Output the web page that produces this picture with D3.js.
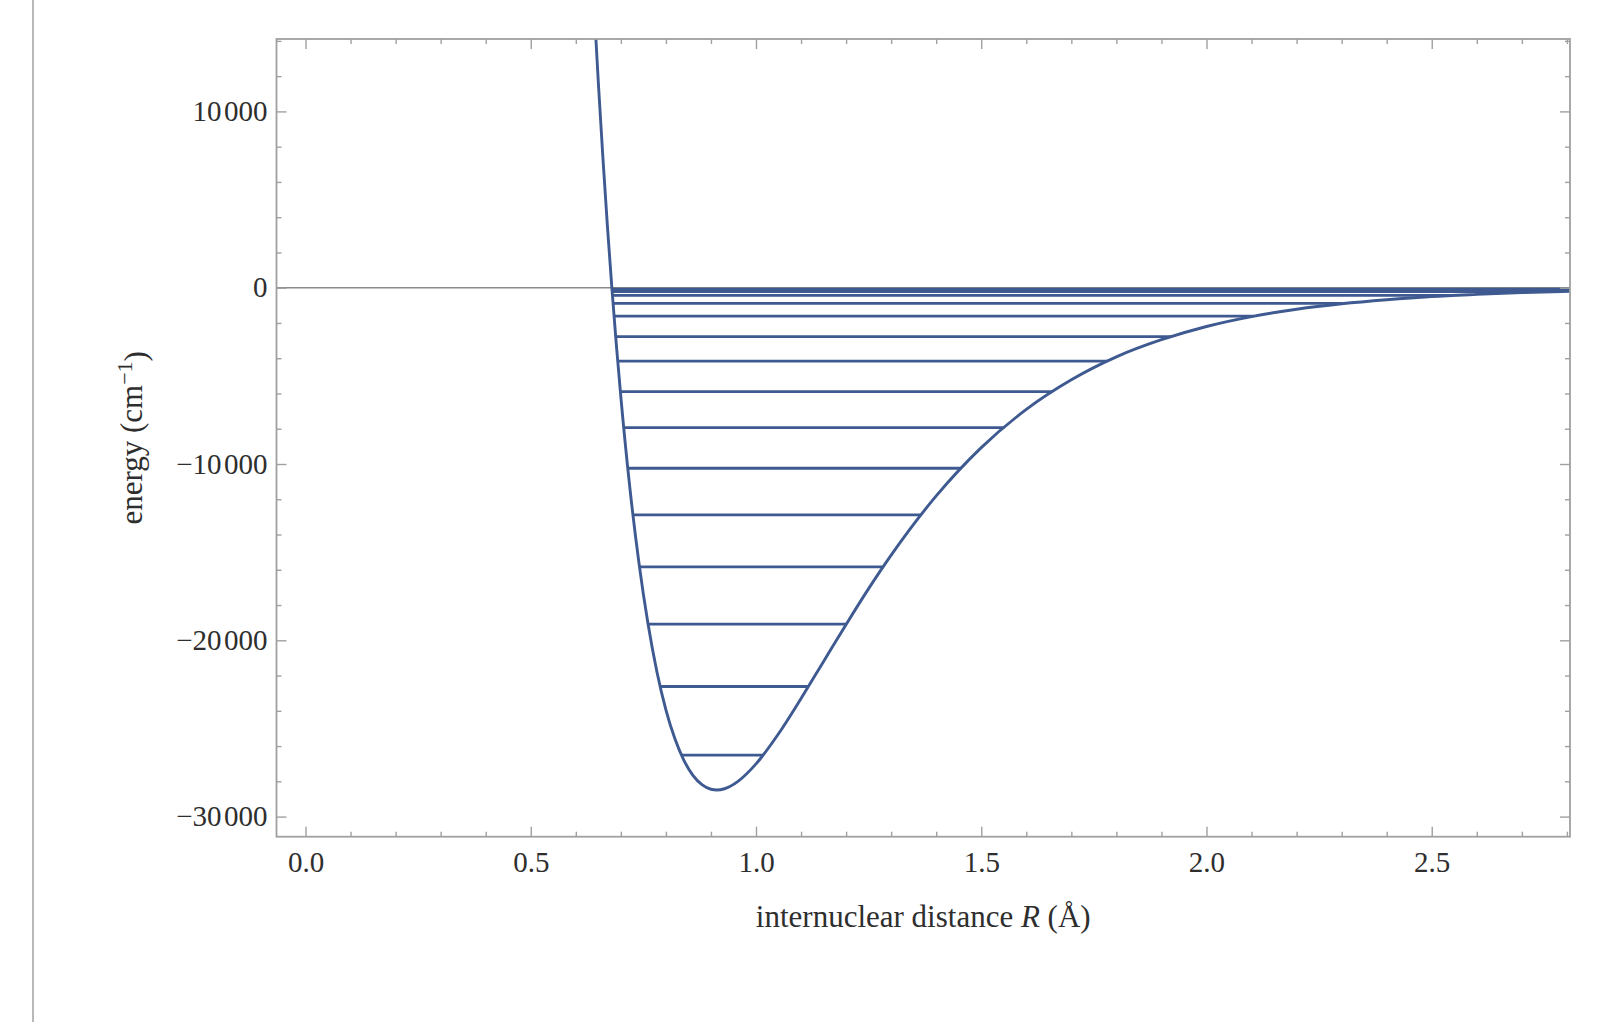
<!DOCTYPE html>
<html>
<head>
<meta charset="utf-8">
<title>Potential curve with vibrational levels</title>
<script src="https://cdn.jsdelivr.net/npm/d3@7"></script>
<style>
  body { margin: 0; background: #fff; }
  text { font-family: "Liberation Serif", "DejaVu Serif", serif; }
</style>
</head>
<body>
<svg id="chart" width="1604" height="1022"></svg>
<script>
// potential curve: R in angstrom, energy in cm^-1
var curveR = [0.63, 0.64, 0.65, 0.66, 0.67, 0.68, 0.69, 0.70, 0.72, 0.74, 0.76, 0.78, 0.80, 0.82,
              0.84, 0.86, 0.88, 0.90, 0.913, 0.93, 0.96, 1.00, 1.05, 1.10, 1.15, 1.20, 1.25, 1.30,
              1.40, 1.50, 1.60, 1.70, 1.80, 1.90, 2.00, 2.10, 2.20, 2.30, 2.40, 2.50, 2.60, 2.70, 2.81];
var curveE = [21200, 16230, 11640, 7430, 3550, 0, -3240, -6200, -11350, -15580, -19020, -21780, -23940, -25590,
              -26810, -27660, -28190, -28450, -28490, -28420, -28000, -27010, -25300, -23300, -21200, -19100, -17070, -15170,
              -11810, -9070, -6900, -5220, -3920, -2950, -2200, -1640, -1220, -910, -680, -500, -380, -280, -200];

// vibrational levels, with inner / outer turning points
var levelE    = [-26510, -22620, -19080, -15830, -12890, -10240, -7940, -5900, -4160, -2770, -1610, -890, -440, -215, -75];
var levelRin  = [0.835, 0.788, 0.761, 0.741, 0.727, 0.715, 0.706, 0.699, 0.693, 0.689, 0.685, 0.683, 0.681, 0.6807, 0.6803];
var levelRout = [1.016, 1.117, 1.201, 1.283, 1.367, 1.455, 1.551, 1.658, 1.780, 1.923, 2.104, 2.300, 2.545, 2.79, 3.1];

var xTicks = [0, 0.5, 1, 1.5, 2, 2.5];
var yTicks = [-30000, -20000, -10000, 0, 10000];

var xLabel = "internuclear distance ";
var yLabel = "energy (cm";

var lineColor = "#3e5a91";
var frameColor = "#a0a0a0";
var textColor = "#2e2e2e";
var fontSize = 29;
var titleSize = 31;

var margin = {top: 39, right: 34, bottom: 185.3, left: 276.5};
var W = 1604, H = 1022;

var svg = d3.select("#chart");

var x = d3.scaleLinear().domain([-0.0644, 2.8069]).range([margin.left, W - margin.right]);
var y = d3.scaleLinear().domain([-31140, 14107]).range([H - margin.bottom, margin.top]);

// page border line on the left
svg.append("line")
    .attr("x1", 33).attr("x2", 33).attr("y1", 0).attr("y2", H)
    .attr("stroke", "#b8b8b8").attr("stroke-width", 2);

svg.append("clipPath").attr("id", "plotclip")
    .append("rect")
    .attr("x", x.range()[0]).attr("y", y.range()[1])
    .attr("width", x.range()[1] - x.range()[0])
    .attr("height", y.range()[0] - y.range()[1]);

var plot = svg.append("g").attr("clip-path", "url(#plotclip)");

// zero axis
plot.append("line")
    .attr("x1", x.range()[0]).attr("x2", x.range()[1])
    .attr("y1", y(0)).attr("y2", y(0))
    .attr("stroke", "#8a8a8a").attr("stroke-width", 1.5);

var levels = levelE.map(function(e, i) { return {e: e, r0: levelRin[i], r1: levelRout[i]}; });

plot.selectAll("line.level")
    .data(levels)
    .enter()
    .append("line")
    .attr("class", "level")
    .attr("x1", function(d) { return x(d.r0); })
    .attr("x2", function(d) { return x(d.r1); })
    .attr("y1", function(d) { return y(d.e); })
    .attr("y2", function(d) { return y(d.e); })
    .attr("stroke", lineColor)
    .attr("stroke-width", 2.8);

var pts = curveR.map(function(r, i) { return [r, curveE[i]]; });
var line = d3.line()
    .x(function(d) { return x(d[0]); })
    .y(function(d) { return y(d[1]); })
    .curve(d3.curveMonotoneX);

plot.append("path")
    .datum(pts)
    .attr("d", line)
    .attr("fill", "none")
    .attr("stroke", lineColor)
    .attr("stroke-width", 2.9);

// frame
svg.append("rect")
    .attr("x", x.range()[0]).attr("y", y.range()[1])
    .attr("width", x.range()[1] - x.range()[0])
    .attr("height", y.range()[0] - y.range()[1])
    .attr("fill", "none")
    .attr("stroke", frameColor)
    .attr("stroke-width", 1.8);

var xMinor = d3.range(1, 29).filter(function(i) { return i % 5 != 0; }).map(function(i) { return i / 10; });
var yMinor = d3.range(-15, 8).filter(function(i) { return i % 5 != 0; }).map(function(i) { return i * 2000; });

var numFmt = d3.formatLocale({decimal: ".", thousands: "\u200a", grouping: [3], currency: ["", ""], minus: "\u2212"}).format(",d");

function styleAxis(g) {
    g.select(".domain").remove();
    g.selectAll(".tick line").attr("stroke", frameColor).attr("stroke-width", 1.4);
    g.attr("font-family", null).attr("font-size", null);
    g.selectAll(".tick text").attr("fill", textColor).style("font-size", fontSize + "px");
}

var bottomY = y.range()[0], topY = y.range()[1];
var leftX = x.range()[0], rightX = x.range()[1];

// bottom + top
svg.append("g").attr("transform", "translate(0," + bottomY + ")")
    .call(d3.axisBottom(x).tickValues(xTicks).tickSize(-10).tickPadding(15).tickFormat(d3.format(".1f")))
    .call(styleAxis);
svg.append("g").attr("transform", "translate(0," + bottomY + ")")
    .call(d3.axisBottom(x).tickValues(xMinor).tickSize(-5).tickFormat(""))
    .call(styleAxis);
svg.append("g").attr("transform", "translate(0," + topY + ")")
    .call(d3.axisTop(x).tickValues(xTicks).tickSize(-10).tickFormat(""))
    .call(styleAxis);
svg.append("g").attr("transform", "translate(0," + topY + ")")
    .call(d3.axisTop(x).tickValues(xMinor).tickSize(-5).tickFormat(""))
    .call(styleAxis);

// left + right
svg.append("g").attr("transform", "translate(" + leftX + ",0)")
    .call(d3.axisLeft(y).tickValues(yTicks).tickSize(-10).tickPadding(9).tickFormat(numFmt))
    .call(styleAxis);
svg.append("g").attr("transform", "translate(" + leftX + ",0)")
    .call(d3.axisLeft(y).tickValues(yMinor).tickSize(-5).tickFormat(""))
    .call(styleAxis);
svg.append("g").attr("transform", "translate(" + rightX + ",0)")
    .call(d3.axisRight(y).tickValues(yTicks).tickSize(-10).tickFormat(""))
    .call(styleAxis);
svg.append("g").attr("transform", "translate(" + rightX + ",0)")
    .call(d3.axisRight(y).tickValues(yMinor).tickSize(-5).tickFormat(""))
    .call(styleAxis);

// axis titles
var xt = svg.append("text")
    .attr("x", (leftX + rightX) / 2)
    .attr("y", 927)
    .attr("text-anchor", "middle")
    .attr("fill", textColor)
    .style("font-size", titleSize + "px");
xt.append("tspan").text(xLabel);
xt.append("tspan").style("font-style", "italic").text("R");
xt.append("tspan").text(" (\u00c5)");

var yt = svg.append("text")
    .attr("transform", "translate(142," + (topY + bottomY) / 2 + ") rotate(-90)")
    .attr("text-anchor", "middle")
    .attr("fill", textColor)
    .style("font-size", titleSize + "px");
yt.append("tspan").text(yLabel);
yt.append("tspan").attr("dy", "-0.45em").style("font-size", "22px").text("\u22121");
yt.append("tspan").attr("dy", "0.45em").text(")");
</script>
</body>
</html>
